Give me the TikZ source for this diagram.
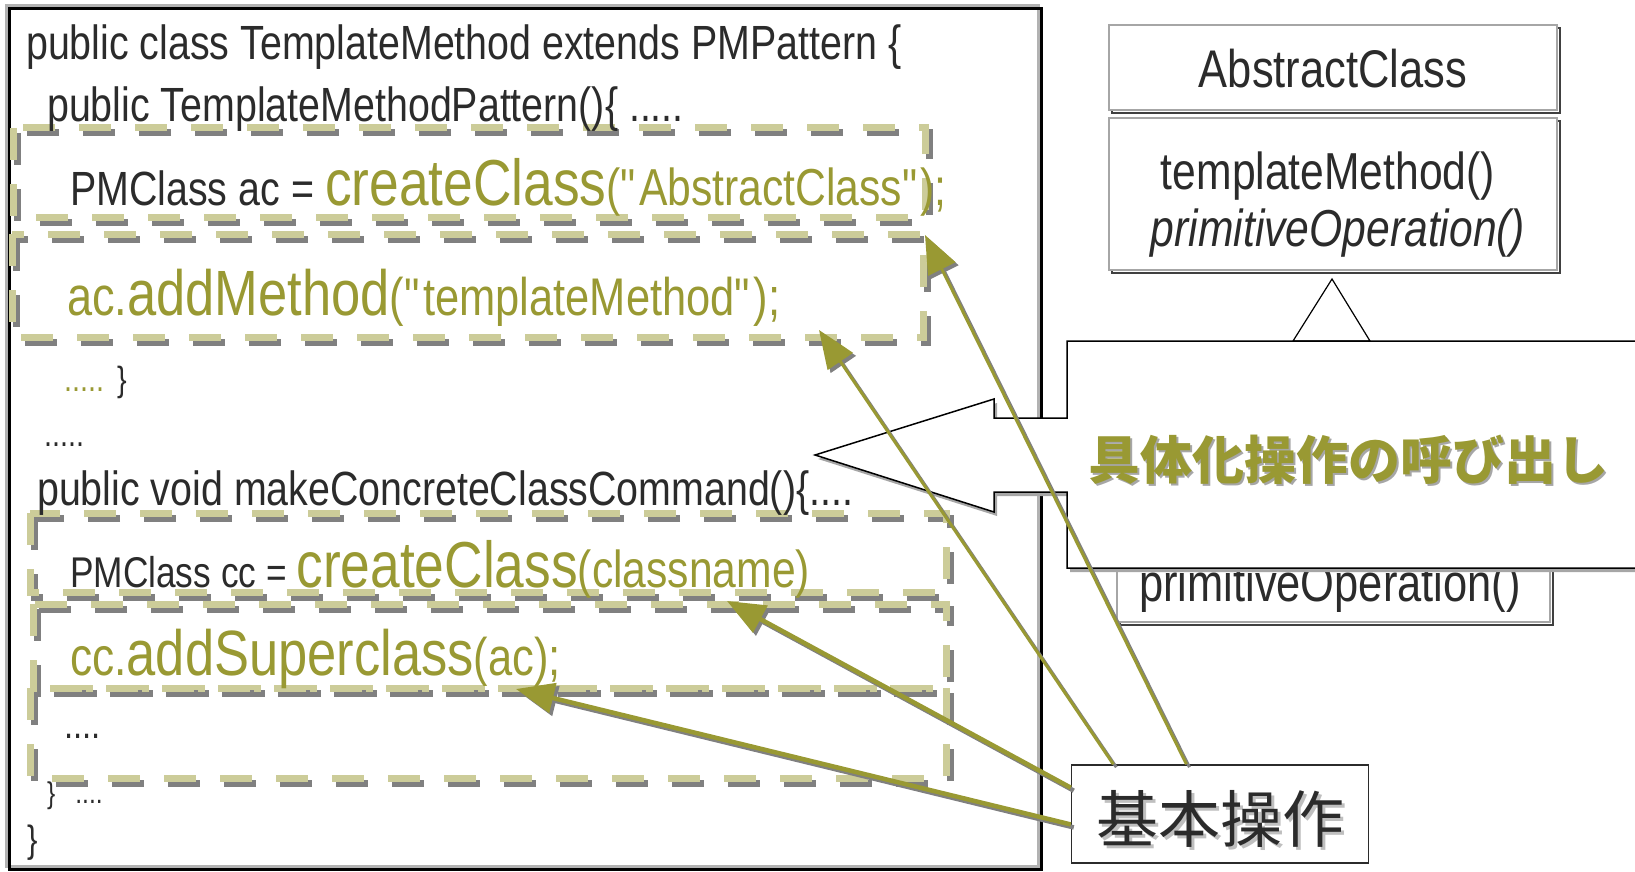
\documentclass[tikz,border=0pt]{standalone}
\usepackage{fontspec}
\setmainfont{Liberation Sans}[FakeStretch=0.82]
\newfontfamily\cjk{Noto Sans CJK JP}
\usepackage{xcolor}
\usetikzlibrary{arrows.meta}
\definecolor{olivetxt}{HTML}{999933}
\definecolor{khaki}{HTML}{CCCC99}
\definecolor{codegray}{HTML}{2B2B2B}
\newcommand{\fsz}[1]{\fontsize{#1}{#1}\selectfont}
\newcommand{\qq}{\textquotedbl}

\begin{document}
\begin{tikzpicture}[x=1pt,y=-1pt,
    codeline/.style={anchor=base west,inner sep=0pt,text=codegray},
    dashbox/.style={draw=khaki,line width=7pt,dash pattern=on 32pt off 24pt},
    dashshade/.style={draw=gray,line width=7pt,dash pattern=on 32pt off 24pt,shift={(4,5)}},
    umlbox/.style={draw=gray!70,line width=2pt,fill=white},
    umlshade/.style={draw=gray!50!black,line width=2pt,shift={(3,3)}},
    hook/.style={draw=olivetxt,-{Triangle[length=38pt,width=30pt]}},
    hookshade/.style={draw=gray,-{Triangle[length=38pt,width=30pt]},transform canvas={xshift=3pt,yshift=-3pt}}]
  \useasboundingbox (0,0) rectangle (1635,872);
  \clip (0,0) rectangle (1635,872);
  % Code frame
  \draw[gray!60,line width=3pt] (6,6) rectangle (1038,866);
  \draw[black,line width=3pt] (9,9) rectangle (1041,869);
  % Highlighted statements
  \draw[dashshade] (13,128) rectangle (925,217);
  \draw[dashbox] (13,128) rectangle (925,217);
  \draw[dashshade] (12,234) rectangle (923,337);
  \draw[dashbox] (12,234) rectangle (923,337);
  \draw[dashshade] (30,513) rectangle (946,592);
  \draw[dashbox] (30,513) rectangle (946,592);
  \draw[dashshade] (33,604) rectangle (946,688);
  \draw[dashbox] (33,604) rectangle (946,688);
  \draw[dashshade] (30,688) rectangle (946,778);
  \draw[dashbox] (30,688) rectangle (946,778);
  % Code lines
  \node[codeline] (l1) at (26,60) {\fsz{48}public class TemplateMethod extends PMPattern \{};
  \node[codeline] (l2) at (47,122) {\fsz{48}public TemplateMethodPattern()\{ .....};
  \node[codeline] (l3) at (70,205) {\fsz{48}PMClass ac = \color{olivetxt}{\fsz{65}createClass}{\fsz{52}(\qq AbstractClass\qq);}};
  \node[codeline,text=olivetxt] (l4) at (67,315) {{\fsz{55}ac.}{\fsz{64}addMethod}{\fsz{53}(\qq templateMethod\qq);}};
  \node[codeline] (l5) at (64,391) {\fsz{35}{\color{olivetxt}.....}\hspace{13pt}\}};
  \node[codeline] (l6) at (44,446) {\fsz{35}.....};
  \node[codeline] (l7) at (37,505) {\fsz{48}public void makeConcreteClassCommand()\{....};
  \node[codeline] (l8) at (70,587) {\fsz{43}PMClass cc = \color{olivetxt}{\fsz{65}createClass}{\fsz{52}(classname)}};
  \node[codeline,text=olivetxt] (l9) at (70,675) {{\fsz{54}cc.}{\fsz{64}addSuperclass}{\fsz{53}(ac);}};
  \node[codeline] (l10) at (64,738) {\fsz{40}....};
  \node[codeline] (l11) at (47,803) {\fsz{30}\}\hspace{20pt}....};
  \node[codeline] (l12) at (27,852) {\fsz{38}\}};
  % UML class AbstractClass
  \draw[umlshade] (1109,25) rectangle (1557,110);
  \draw[umlbox] (1109,25) rectangle (1557,110);
  \node[codeline,anchor=base] (absname) at (1333,88) {\fsz{53}AbstractClass};
  \draw[umlshade] (1109,118) rectangle (1557,270);
  \draw[umlbox] (1109,118) rectangle (1557,270);
  \node[codeline,anchor=base] (tmeth) at (1328,189) {\fsz{52}templateMethod()};
  \node[codeline,anchor=base] (pop) at (1338,246) {\fsz{52}\itshape primitiveOperation()};
  \draw[black,fill=white,line width=1.2pt] (1293,341) -- (1332,279) -- (1370,341) -- cycle;
  % Concrete class, mostly hidden
  \draw[umlshade] (1117,470) rectangle (1550,622);
  \draw[umlbox] (1117,470) rectangle (1550,622);
  \node[codeline,anchor=base] (cpop) at (1330,601) {\fsz{53}primitiveOperation()};
  % Callout
  \fill[gray!70,shift={(3,4)}] (1067,341) -- (1645,341) -- (1645,568) -- (1067,568) -- (1067,492)
    -- (994,492) -- (994,512) -- (815,455) -- (994,399) -- (994,418) -- (1067,418) -- cycle;
  \draw[black,fill=white,line width=1.5pt] (1067,341) -- (1645,341) -- (1645,568) -- (1067,568) -- (1067,492)
    -- (994,492) -- (994,512) -- (815,455) -- (994,399) -- (994,418) -- (1067,418) -- cycle;
  \node[inner sep=0pt,text=gray!70] (callsh) at (1350,462) {\cjk\bfseries\fsz{52}具体化操作の呼び出し};
  \node[inner sep=0pt,text=olivetxt] (call) at (1348,460) {\cjk\bfseries\fsz{52}具体化操作の呼び出し};
  % Basic operations
  \node[draw=codegray,line width=1.5pt,fill=white,minimum width=297pt,minimum height=98pt,inner sep=0pt] (basic) at (1220,814) {};
  \node[inner sep=0pt,text=gray!50] (basicsh) at (1223,822) {\cjk\fsz{62}基本操作};
  \node[inner sep=0pt,text=codegray] (basictxt) at (1220,819) {\cjk\fsz{62}基本操作};
  \coordinate (createAC) at (925,235);
  \coordinate (addMeth) at (819,330);
  \coordinate (createCC) at (727,601);
  \coordinate (addSuper) at (516,689);
  % Arrows
  \draw[hookshade,line width=3pt] (basic.124) -- (createAC);
  \draw[hook,line width=3pt] (basic.124) -- (createAC);
  \draw[hookshade,line width=3pt] (basic.155) -- (addMeth);
  \draw[hook,line width=3pt] (basic.155) -- (addMeth);
  \draw[hookshade,line width=4.5pt] (basic.170) -- (createCC);
  \draw[hook,line width=4.5pt] (basic.170) -- (createCC);
  \draw[hookshade,line width=4.5pt] (basic.184) -- (addSuper);
  \draw[hook,line width=4.5pt] (basic.184) -- (addSuper);
\end{tikzpicture}
\end{document}
